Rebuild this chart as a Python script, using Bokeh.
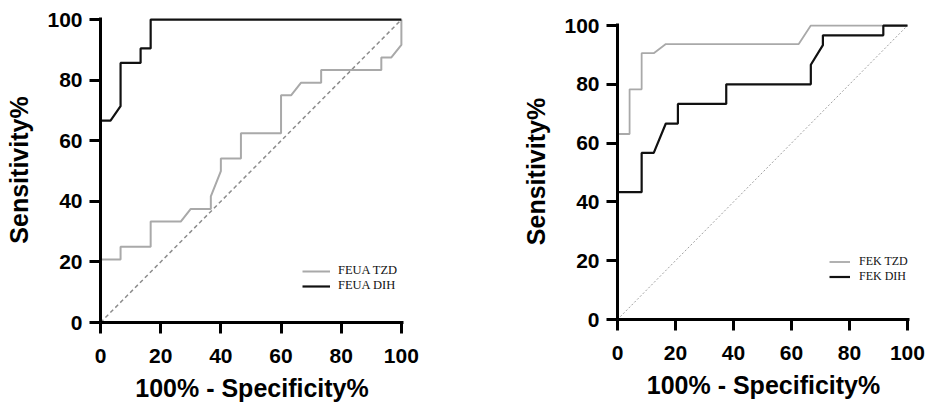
from bokeh.plotting import figure
from bokeh.layouts import row, column
from bokeh.models import Range1d, FixedTicker, Legend, Spacer
from bokeh.embed import file_html
from bokeh.resources import INLINE

# ---- data ----
ticks = [0, 20, 40, 60, 80, 100]
diag = [0, 100]

feua_dih_x = [0, 0, 3.33, 6.67, 6.67, 13.33, 13.33, 16.67, 16.67, 100]
feua_dih_y = [0, 66.67, 66.67, 71.43, 85.71, 85.71, 90.48, 90.48, 100, 100]

feua_tzd_x = [0, 0, 6.67, 6.67, 16.67, 16.67, 26.67, 30, 36.67, 36.67, 40, 40, 46.67,
              46.67, 60, 60, 63.33, 66.67, 73.33, 73.33, 93.33, 93.33, 96.67, 100, 100]
feua_tzd_y = [0, 20.83, 20.83, 25, 25, 33.33, 33.33, 37.5, 37.5, 41.67, 50, 54.17, 54.17,
              62.5, 62.5, 75, 75, 79.17, 79.17, 83.33, 83.33, 87.5, 87.5, 91.67, 100]

fek_tzd_x = [0, 0, 4.17, 4.17, 8.33, 8.33, 12.5, 16.67, 62.5, 66.67, 100]
fek_tzd_y = [0, 63.1, 63.1, 78.3, 78.3, 90.6, 90.6, 93.7, 93.7, 100, 100]

fek_dih_x = [0, 0, 8.33, 8.33, 12.5, 16.67, 20.83, 20.83, 37.5, 37.5, 66.67, 66.67,
             70.83, 70.83, 91.67, 91.67, 100]
fek_dih_y = [0, 43.33, 43.33, 56.67, 56.67, 66.67, 66.67, 73.33, 73.33, 80, 80, 86.67,
             93.33, 96.67, 96.67, 100, 100]

labels_left = ["FEUA TZD", "FEUA DIH"]
labels_right = ["FEK TZD", "FEK DIH"]

GRAY = "#a9a9a9"
BLACK = "#111111"
SANS = "Liberation Sans"
SERIF = "Liberation Serif"


def make_fig(w, h, bl, br, bt, bb):
    p = figure(width=w, height=h,
               x_range=Range1d(0, 100.7), y_range=Range1d(0, 100.7),
               output_backend="svg", toolbar_location=None,
               min_border_left=bl, min_border_right=br,
               min_border_top=bt, min_border_bottom=bb)
    p.outline_line_color = None
    p.grid.visible = False
    p.background_fill_color = "white"
    for ax in (p.xaxis[0], p.yaxis[0]):
        ax.ticker = FixedTicker(ticks=ticks)
        ax.axis_line_width = 3
        ax.axis_line_color = "black"
        ax.major_tick_line_width = 3
        ax.major_tick_line_color = "black"
        ax.major_tick_out = 11
        ax.major_tick_in = 0
        ax.minor_tick_line_color = None
        ax.major_label_text_font = SANS
        ax.major_label_text_font_style = "bold"
        ax.major_label_text_font_size = "21px"
        ax.major_label_text_color = "black"
        ax.axis_label_text_font = SANS
        ax.axis_label_text_font_style = "bold"
        ax.axis_label_text_font_size = "25px"
        ax.axis_label_text_color = "black"
    p.xaxis.axis_label = "100% - Specificity%"
    p.yaxis.axis_label = "Sensitivity%"
    p.yaxis.major_label_standoff = 7
    p.xaxis.major_label_standoff = 15
    p.yaxis.axis_label_standoff = 11
    p.xaxis.axis_label_standoff = 8
    return p


# ---- left chart ----
p1 = make_fig(500, 404, 100, 97, 17, 77)
p1.line(diag, diag, line_color="#8c8c8c", line_width=1.5, line_dash="4 3")
r1a = p1.line(feua_tzd_x, feua_tzd_y, line_color=GRAY, line_width=2)
r1b = p1.line(feua_dih_x, feua_dih_y, line_color=BLACK, line_width=2.2)
leg1 = Legend(items=[(labels_left[0], [r1a]), (labels_left[1], [r1b])],
              location=(202, 29), glyph_width=28, glyph_height=14, label_height=14,
              label_standoff=8, spacing=0, padding=0, margin=0,
              border_line_color=None, background_fill_alpha=0,
              label_text_font=SERIF, label_text_font_size="12.5px",
              label_text_color="#111111")
p1.add_layout(leg1)

# ---- right chart ----
p2 = make_fig(431, 396, 117, 22, 17, 83)
p2.line(diag, diag, line_color="#a0a0a0", line_width=1, line_dash="2 2")
r2a = p2.line(fek_tzd_x, fek_tzd_y, line_color=GRAY, line_width=1.8)
r2b = p2.line(fek_dih_x, fek_dih_y, line_color=BLACK, line_width=2.2)
leg2 = Legend(items=[(labels_right[0], [r2a]), (labels_right[1], [r2b])],
              location=(212, 35), glyph_width=21, glyph_height=13, label_height=13,
              label_standoff=9, spacing=0, padding=0, margin=0,
              border_line_color=None, background_fill_alpha=0,
              label_text_font=SERIF, label_text_font_size="12px",
              label_text_color="#111111")
p2.add_layout(leg2)

layout = row(p1, column(Spacer(height=6, width=431), p2))
open("out.html", "w").write(file_html(layout, INLINE))
